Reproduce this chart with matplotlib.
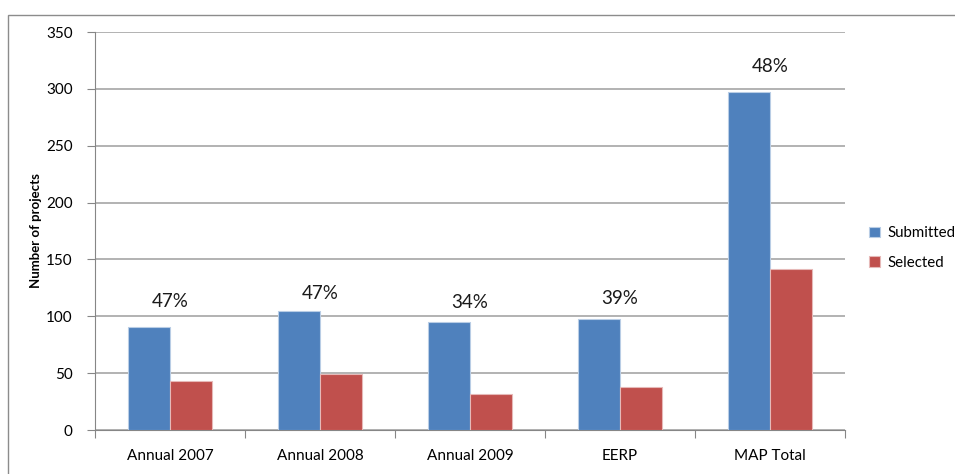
import numpy as np
import matplotlib.pyplot as plt
from matplotlib.patches import Rectangle

plt.rcParams['font.family'] = ['Lato', 'DejaVu Sans']

# chart data
categories = ['Annual 2007', 'Annual 2008', 'Annual 2009', 'EERP', 'MAP Total']
submitted = [91, 105, 95, 98, 297]
selected = [43, 49, 32, 38, 142]
pct_labels = ['47%', '47%', '34%', '39%', '48%']
pct_heights = [113, 120, 112, 116, 320]

blue = '#4F81BD'
red = '#C0504D'
grid_col = '#A6A6A6'

fig = plt.figure(figsize=(9.55, 4.74), dpi=100)

# outer chart frame
frame = Rectangle((8 / 955, -0.1), 1.1, 1.1 - 15 / 474,
                  transform=fig.transFigure, fill=False,
                  edgecolor='#8C8C8C', linewidth=1.0)
fig.patches.append(frame)

ax = fig.add_axes([95 / 955, 44 / 474, 750 / 955, 398 / 474])

x = np.arange(len(categories))
w = 0.283
ax.bar(x - w / 2, submitted, w, color=blue, edgecolor='#B9CDE5', linewidth=0.8,
       label='Submitted', zorder=3)
ax.bar(x + w / 2, selected, w, color=red, edgecolor='#E6B9B8', linewidth=0.8,
       label='Selected', zorder=3)

for xi, txt, h in zip(x, pct_labels, pct_heights):
    ax.text(xi, h, txt, ha='center', va='center', fontsize=13.5, color='#1a1a1a')

ax.set_xlim(-0.5, len(categories) - 0.5)
ax.set_ylim(0, 350)
ax.set_yticks(range(0, 351, 50))
ax.yaxis.grid(True, color=grid_col, linewidth=1.2, zorder=0)
ax.set_axisbelow(True)

# boundary ticks without labels, category names centred
ax.set_xticks(np.arange(-0.5, len(categories), 1.0))
ax.set_xticklabels([])
ax.set_xticks(x, minor=True)
ax.set_xticklabels(categories, minor=True, fontsize=11)
ax.tick_params(axis='x', which='major', length=6, color='#868686', direction='out')
ax.tick_params(axis='x', which='minor', length=0, pad=14)
ax.tick_params(axis='y', length=6, color='#868686', labelsize=11, pad=10)

for side in ['top', 'right']:
    ax.spines[side].set_visible(False)
for side in ['left', 'bottom']:
    ax.spines[side].set_color('#868686')

ax.set_ylabel('Number of projects', fontsize=9.5, fontweight='bold')
ax.yaxis.set_label_coords(-0.07, 0.5)

ax.legend(loc='center left', bbox_to_anchor=(1.032, 0.457), frameon=False,
          fontsize=10.8, handlelength=0.7, handleheight=0.7, handletextpad=0.5,
          labelspacing=1.05, borderpad=0, borderaxespad=0)

fig.savefig('out.png', dpi=100)
